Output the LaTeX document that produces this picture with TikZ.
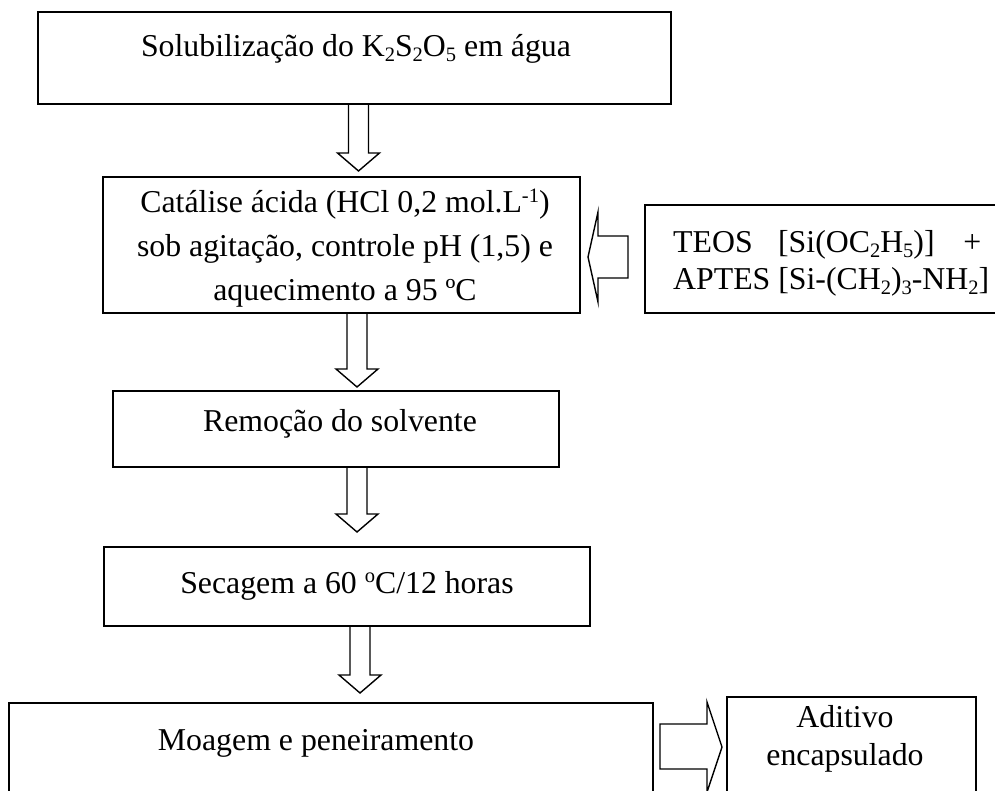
\documentclass[tikz,border=0pt]{standalone}
\usepackage{fontspec}
\setmainfont{Liberation Serif}
\usetikzlibrary{calc}
\newcommand\sbs[1]{\raisebox{-4.5pt}{\fontsize{20.5}{20.5}\selectfont #1}}
\newcommand\sps[1]{\raisebox{10.5pt}{\fontsize{20.5}{20.5}\selectfont #1}}
\tikzset{
  box/.style={draw, line width=1.5pt, rectangle, inner sep=0pt, outer sep=0pt},
  txt/.style={inner sep=0pt, anchor=base, font=\fontsize{31.8}{40}\selectfont},
  blk/.style={draw, line width=1.4pt, line join=miter},
}
\newcommand\downblk[4]{%
  \draw[blk] let \p1=(#1.south), \p2=(#2.north) in
    (#3pt-10pt,\y1) -- (#3pt-10pt,\y2+#4pt+18pt) -- (#3pt-21pt,\y2+#4pt+18pt)
    -- (#3pt,\y2+#4pt) -- (#3pt+21pt,\y2+#4pt+18pt) -- (#3pt+10pt,\y2+#4pt+18pt)
    -- (#3pt+10pt,\y1);
}
\begin{document}
\begin{tikzpicture}[x=1pt,y=-1pt]
\clip (0,0) rectangle (995,791);
% boxes
\node[box, minimum width=633pt, minimum height=92pt] (b1) at (354.5,58) {};
\node[box, minimum width=477pt, minimum height=136pt] (b2) at (341.5,245) {};
\node[box, minimum width=446pt, minimum height=76pt] (b3) at (336,429) {};
\node[box, minimum width=486pt, minimum height=79pt] (b4) at (347,586.5) {};
\node[box, minimum width=644pt, minimum height=127pt] (b5) at (331,766.5) {};
\node[box, minimum width=249pt, minimum height=133pt] (b6) at (851.5,763.5) {};
\node[box, minimum width=365pt, minimum height=108pt] (b7) at (827.5,259) {};
% texts
\node[txt] (t1) at (356,57) {Solubilização do K\sbs{2}S\sbs{2}O\sbs{5} em água};
\node[txt] (t2a) at (345,213) {Catálise ácida (HCl 0,2 mol.L\sps{-1})};
\node[txt] (t2b) at (345,257) {sob agitação, controle pH (1,5) e};
\node[txt] (t2c) at (345,301) {aquecimento a 95 ºC};
\node[txt] (t3) at (340,431) {Remoção do solvente};
\node[txt] (t4) at (347,593) {Secagem a 60 \sps{o}C/12 horas};
\node[txt] (t5) at (316,750) {Moagem e peneiramento};
\node[txt] (t6a) at (845,727) {Aditivo};
\node[txt] (t6b) at (845,765) {encapsulado};
\node[txt, anchor=base west] (t7a) at (673,253) {TEOS\hspace{0.8em}[Si(OC\sbs{2}H\sbs{5})]\hspace{0.9em}+};
\node[txt, anchor=base west] (t7b) at (673,290) {APTES [Si-(CH\sbs{2})\sbs{3}-NH\sbs{2}]};
% block arrows
\downblk{b1}{b2}{358.5}{6}
\downblk{b2}{b3}{357}{4}
\downblk{b3}{b4}{357}{15}
\downblk{b4}{b5}{360}{10}
\draw[blk] let \p1=(b7.west), \p2=(b2.east) in
  (\x1-17pt,-236pt) -- (\x2+18pt,-236pt) -- (\x2+18pt,-212pt) -- (\x2+8pt,-257pt)
  -- (\x2+18pt,-302pt) -- (\x2+18pt,-278pt) -- (\x1-17pt,-278pt) -- cycle;
\draw[blk] let \p1=(b5.east), \p2=(b6.west) in
  (\x1+7pt,-724pt) -- (\x2-20pt,-724pt) -- (\x2-20pt,-702pt) -- (\x2-5pt,-747pt)
  -- (\x2-20pt,-792pt) -- (\x2-20pt,-769pt) -- (\x1+7pt,-769pt) -- cycle;
\end{tikzpicture}
\end{document}
